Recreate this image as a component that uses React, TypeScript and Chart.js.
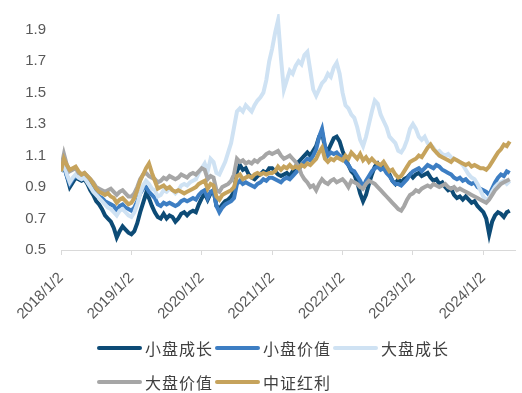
import React, { useEffect, useRef } from 'react';
import { Chart, registerables } from 'chart.js';

Chart.register(...registerables);

// ---- data ----
const seriesNames = ['小盘成长', '小盘价值', '大盘成长', '大盘价值', '中证红利'];
const startYear = 2018;
const periodsPerYear = 24; // semi-monthly samples
const yearTicks = [2018, 2019, 2020, 2021, 2022, 2023, 2024];
const yearTickLabels = ['2018/1/2', '2019/1/2', '2020/1/2', '2021/1/2', '2022/1/2', '2023/1/2', '2024/1/2'];
const valueTicks = [0.5, 0.7, 0.9, 1.1, 1.3, 1.5, 1.7, 1.9];

const smallGrowth = [
  1.00, 1.04, 0.97, 0.90, 0.93, 0.96, 0.95, 0.94, 0.95, 0.92, 0.88, 0.85, 0.81, 0.79, 0.76, 0.72, 0.70, 0.68, 0.64, 0.58, 0.62, 0.65, 0.63, 0.61,
  0.60, 0.62, 0.67, 0.74, 0.80, 0.86, 0.83, 0.78, 0.74, 0.71, 0.70, 0.73, 0.70, 0.72, 0.71, 0.68, 0.70, 0.73, 0.74, 0.72, 0.74, 0.75, 0.74, 0.79,
  0.83, 0.86, 0.82, 0.86, 0.88, 0.78, 0.76, 0.79, 0.81, 0.82, 0.84, 0.87, 1.00, 1.04, 1.01, 1.02, 0.98, 0.96, 0.95, 0.97, 0.98, 1.00, 0.99, 1.02,
  1.02, 1.00, 0.98, 0.97, 0.98, 0.99, 0.97, 1.00, 1.03, 1.06, 1.08, 1.10, 1.12, 1.10, 1.13, 1.16, 1.22, 1.25, 1.15, 1.13, 1.17, 1.21, 1.22, 1.19,
  1.13, 1.08, 1.04, 1.00, 0.98, 0.93, 0.86, 0.81, 0.85, 0.92, 0.98, 1.03, 1.05, 1.02, 1.04, 1.00, 0.98, 0.94, 0.92, 0.95, 0.93, 0.95, 0.96, 0.98,
  0.96, 0.98, 0.99, 0.97, 0.98, 0.99, 0.96, 0.94, 0.95, 0.92, 0.93, 0.90, 0.88, 0.89, 0.85, 0.83, 0.84, 0.82, 0.84, 0.82, 0.80, 0.81, 0.78, 0.76,
  0.74, 0.70, 0.60, 0.68, 0.72, 0.74, 0.73, 0.71, 0.74, 0.75,
];
const smallValue = [
  1.00, 1.03, 0.97, 0.92, 0.95, 0.97, 0.96, 0.95, 0.96, 0.94, 0.91, 0.88, 0.86, 0.84, 0.83, 0.81, 0.80, 0.79, 0.78, 0.75, 0.78, 0.79, 0.77, 0.76,
  0.75, 0.77, 0.81, 0.86, 0.89, 0.90, 0.87, 0.85, 0.83, 0.79, 0.78, 0.80, 0.79, 0.80, 0.79, 0.78, 0.79, 0.81, 0.82, 0.81, 0.82, 0.83, 0.82, 0.85,
  0.87, 0.88, 0.83, 0.87, 0.88, 0.78, 0.74, 0.77, 0.79, 0.80, 0.81, 0.83, 0.92, 0.94, 0.92, 0.93, 0.92, 0.91, 0.90, 0.92, 0.93, 0.95, 0.94, 0.96,
  0.96, 0.95, 0.94, 0.93, 0.95, 0.96, 0.95, 0.97, 0.99, 1.01, 1.04, 1.06, 1.08, 1.07, 1.10, 1.14, 1.22, 1.27, 1.16, 1.10, 1.12, 1.11, 1.12, 1.10,
  1.09, 1.06, 1.04, 1.01, 1.00, 0.97, 0.94, 0.90, 0.94, 0.97, 1.00, 1.02, 1.03, 1.01, 1.02, 0.99, 0.97, 0.94, 0.92, 0.92, 0.91, 0.93, 0.95, 0.98,
  1.00, 1.01, 1.02, 1.00, 1.02, 1.04, 1.03, 1.02, 1.04, 1.03, 1.01, 1.00, 0.99, 0.98, 0.96, 0.95, 0.96, 0.94, 0.95, 0.93, 0.92, 0.93, 0.90, 0.89,
  0.88, 0.87, 0.85, 0.89, 0.93, 0.96, 0.98, 0.97, 1.00, 0.99,
];
const largeGrowth = [
  1.00, 1.05, 0.98, 0.93, 0.96, 0.98, 0.96, 0.95, 0.96, 0.93, 0.90, 0.87, 0.85, 0.83, 0.81, 0.79, 0.77, 0.76, 0.74, 0.72, 0.75, 0.76, 0.74, 0.72,
  0.71, 0.74, 0.79, 0.86, 0.91, 0.94, 0.92, 0.89, 0.88, 0.84, 0.85, 0.88, 0.87, 0.89, 0.88, 0.86, 0.88, 0.91, 0.92, 0.91, 0.93, 0.94, 0.95, 0.99,
  1.02, 1.05, 1.00, 1.08, 1.06, 0.99, 0.98, 1.02, 1.06, 1.12, 1.18, 1.28, 1.38, 1.40, 1.38, 1.42, 1.40, 1.38, 1.42, 1.45, 1.47, 1.50, 1.58, 1.70,
  1.78, 1.88, 1.96, 1.72, 1.52, 1.58, 1.64, 1.62, 1.67, 1.70, 1.68, 1.74, 1.76, 1.64, 1.52, 1.48, 1.52, 1.56, 1.58, 1.62, 1.60, 1.66, 1.69, 1.62,
  1.50, 1.42, 1.40, 1.36, 1.34, 1.28, 1.20, 1.16, 1.22, 1.30, 1.38, 1.45, 1.43, 1.36, 1.32, 1.28, 1.22, 1.20, 1.18, 1.13, 1.12, 1.15, 1.20, 1.27,
  1.30, 1.27, 1.22, 1.20, 1.22, 1.18, 1.17, 1.15, 1.12, 1.13, 1.11, 1.10, 1.11, 1.09, 1.08, 1.07, 1.06, 1.04, 1.01, 0.98, 0.96, 0.95, 0.92, 0.88,
  0.84, 0.82, 0.83, 0.87, 0.90, 0.92, 0.93, 0.94, 0.92, 0.94,
];
const largeValue = [
  1.02, 1.11, 1.04, 1.00, 1.01, 1.02, 0.99, 0.98, 0.99, 0.97, 0.95, 0.93, 0.90, 0.89, 0.88, 0.87, 0.88, 0.89, 0.87, 0.85, 0.87, 0.88, 0.86, 0.84,
  0.84, 0.86, 0.90, 0.95, 0.98, 0.99, 0.97, 0.96, 0.95, 0.93, 0.94, 0.96, 0.95, 0.97, 0.96, 0.95, 0.96, 0.98, 0.97, 0.96, 0.98, 0.99, 0.98, 1.00,
  1.02, 1.01, 0.95, 0.97, 0.96, 0.88, 0.87, 0.90, 0.91, 0.92, 0.94, 0.98, 1.08, 1.06, 1.07, 1.05, 1.06, 1.05, 1.07, 1.06, 1.08, 1.09, 1.11, 1.12,
  1.11, 1.12, 1.13, 1.10, 1.08, 1.09, 1.10, 1.08, 1.06, 1.03, 0.98, 0.95, 0.93, 0.90, 0.91, 0.88, 0.92, 0.95, 0.93, 0.92, 0.94, 0.95, 0.93, 0.94,
  0.95, 0.93, 0.90, 0.94, 0.93, 0.92, 0.90, 0.89, 0.92, 0.94, 0.93, 0.92, 0.90, 0.88, 0.86, 0.84, 0.82, 0.80, 0.78, 0.76, 0.75, 0.78, 0.82, 0.85,
  0.86, 0.88, 0.87, 0.89, 0.90, 0.91, 0.90, 0.92, 0.91, 0.90, 0.91, 0.92, 0.90, 0.89, 0.90, 0.88, 0.89, 0.88, 0.87, 0.86, 0.85, 0.84, 0.83, 0.82,
  0.81, 0.80, 0.82, 0.85, 0.88, 0.90, 0.92, 0.93, 0.94, 0.95,
];
const dividend = [
  1.00, 1.08, 1.04, 1.01, 1.02, 1.03, 1.00, 0.98, 0.99, 0.97, 0.95, 0.92, 0.89, 0.87, 0.86, 0.85, 0.86, 0.84, 0.83, 0.80, 0.82, 0.83, 0.81, 0.79,
  0.80, 0.83, 0.88, 0.94, 0.98, 1.02, 1.05, 0.99, 0.94, 0.89, 0.90, 0.91, 0.89, 0.90, 0.88, 0.87, 0.88, 0.87, 0.86, 0.87, 0.88, 0.89, 0.90, 0.92,
  0.93, 0.94, 0.89, 0.92, 0.91, 0.84, 0.82, 0.85, 0.86, 0.87, 0.88, 0.90, 0.97, 0.98, 0.95, 0.96, 0.97, 0.96, 0.98, 0.99, 0.98, 0.99, 0.98, 0.99,
  0.99, 1.00, 1.03, 1.01, 1.03, 1.02, 1.04, 1.02, 1.03, 1.02, 1.04, 1.03, 1.05, 1.04, 1.06, 1.08, 1.12, 1.15, 1.08, 1.06, 1.08, 1.07, 1.09, 1.08,
  1.07, 1.10, 1.08, 1.12, 1.10, 1.08, 1.11, 1.07, 1.09, 1.06, 1.08, 1.06, 1.05, 1.04, 1.06, 1.03, 1.00, 1.01, 0.98, 0.96, 0.97, 1.00, 1.03, 1.06,
  1.07, 1.08, 1.10, 1.09, 1.12, 1.15, 1.17, 1.14, 1.12, 1.10, 1.09, 1.08, 1.07, 1.06, 1.08, 1.07, 1.06, 1.05, 1.04, 1.05, 1.03, 1.04, 1.03, 1.02,
  1.02, 1.01, 1.03, 1.06, 1.09, 1.12, 1.14, 1.17, 1.16, 1.19,
];

const seriesValues = [smallGrowth, smallValue, largeGrowth, largeValue, dividend];

// ---- styles ----
const seriesColors = ['#0D4B76', '#3D7EC3', '#CFE2F3', '#A6A6A6', '#C6A35C'];
const drawOrder = [5, 4, 3, 2, 1];
const textColor = '#595959';

export default function App() {
  const ref = useRef<HTMLCanvasElement | null>(null);

  useEffect(() => {
    if (!ref.current) return;
    const datasets = seriesValues.map((vals, k) => ({
      label: seriesNames[k],
      data: vals.map((v, i) => ({ x: startYear + i / periodsPerYear, y: v })),
      borderColor: seriesColors[k],
      backgroundColor: seriesColors[k],
      borderWidth: 4,
      pointRadius: 0,
      tension: 0,
      order: drawOrder[k],
    }));
    const chart = new Chart(ref.current, {
      type: 'line',
      data: { datasets },
      options: {
        animation: false,
        responsive: true,
        maintainAspectRatio: false,
        layout: { padding: { top: 14, right: 7, bottom: 0, left: 0 } },
        plugins: { legend: { display: false }, tooltip: { enabled: false } },
        scales: {
          x: {
            type: 'linear',
            min: 2018,
            max: 2024.45,
            afterBuildTicks: (scale: any) => {
              scale.ticks = yearTicks.map((v) => ({ value: v }));
            },
            afterFit: (scale: any) => {
              scale.height = 143;
            },
            ticks: {
              autoSkip: false,
              maxRotation: 45,
              minRotation: 45,
              color: textColor,
              font: { family: '"Liberation Sans", Arial, sans-serif', size: 15 },
              padding: 14,
              callback: (v: any) => {
                const idx = yearTicks.indexOf(Number(v));
                return idx >= 0 ? yearTickLabels[idx] : '';
              },
            },
            grid: {
              display: true,
              drawOnChartArea: false,
              drawTicks: true,
              tickLength: 5,
              color: '#D9D9D9',
            },
            border: { display: true, color: '#D9D9D9', width: 1 },
          },
          y: {
            type: 'linear',
            min: 0.5,
            max: 2.0,
            afterBuildTicks: (scale: any) => {
              scale.ticks = valueTicks.map((v) => ({ value: v }));
            },
            afterFit: (scale: any) => {
              scale.width = 61;
              scale.paddingTop = 0;
              scale.paddingBottom = 0;
            },
            ticks: {
              color: textColor,
              font: { family: '"Liberation Sans", Arial, sans-serif', size: 15 },
              padding: 15,
              callback: (v: any) => Number(v).toFixed(1),
            },
            grid: { display: false, drawTicks: false },
            border: { display: false },
          },
        },
      },
    });
    return () => chart.destroy();
  }, []);

  return (
    <div style={{ position: 'absolute', left: 0, top: 0, width: 522, height: 393, background: '#ffffff' }}>
      <div style={{ position: 'absolute', left: 0, top: 0, width: 522, height: 393 }}>
        <canvas ref={ref} />
      </div>
      <div
        style={{
          position: 'absolute',
          left: 97,
          top: 338,
          width: 366,
          display: 'flex',
          flexWrap: 'wrap',
          rowGap: 14,
          fontFamily: '"Noto Sans CJK SC", "Noto Sans", sans-serif',
          fontSize: 16,
          letterSpacing: 1,
          color: '#404040',
        }}
      >
        {seriesNames.map((name, k) => (
          <div key={name} style={{ display: 'flex', alignItems: 'center', height: 20, marginRight: 2 }}>
            <span
              style={{
                display: 'inline-block',
                width: 45,
                height: 4,
                borderRadius: 2,
                background: seriesColors[k],
                marginRight: 3,
              }}
            />
            <span style={{ lineHeight: '20px', whiteSpace: 'nowrap' }}>{name}</span>
          </div>
        ))}
      </div>
    </div>
  );
}
